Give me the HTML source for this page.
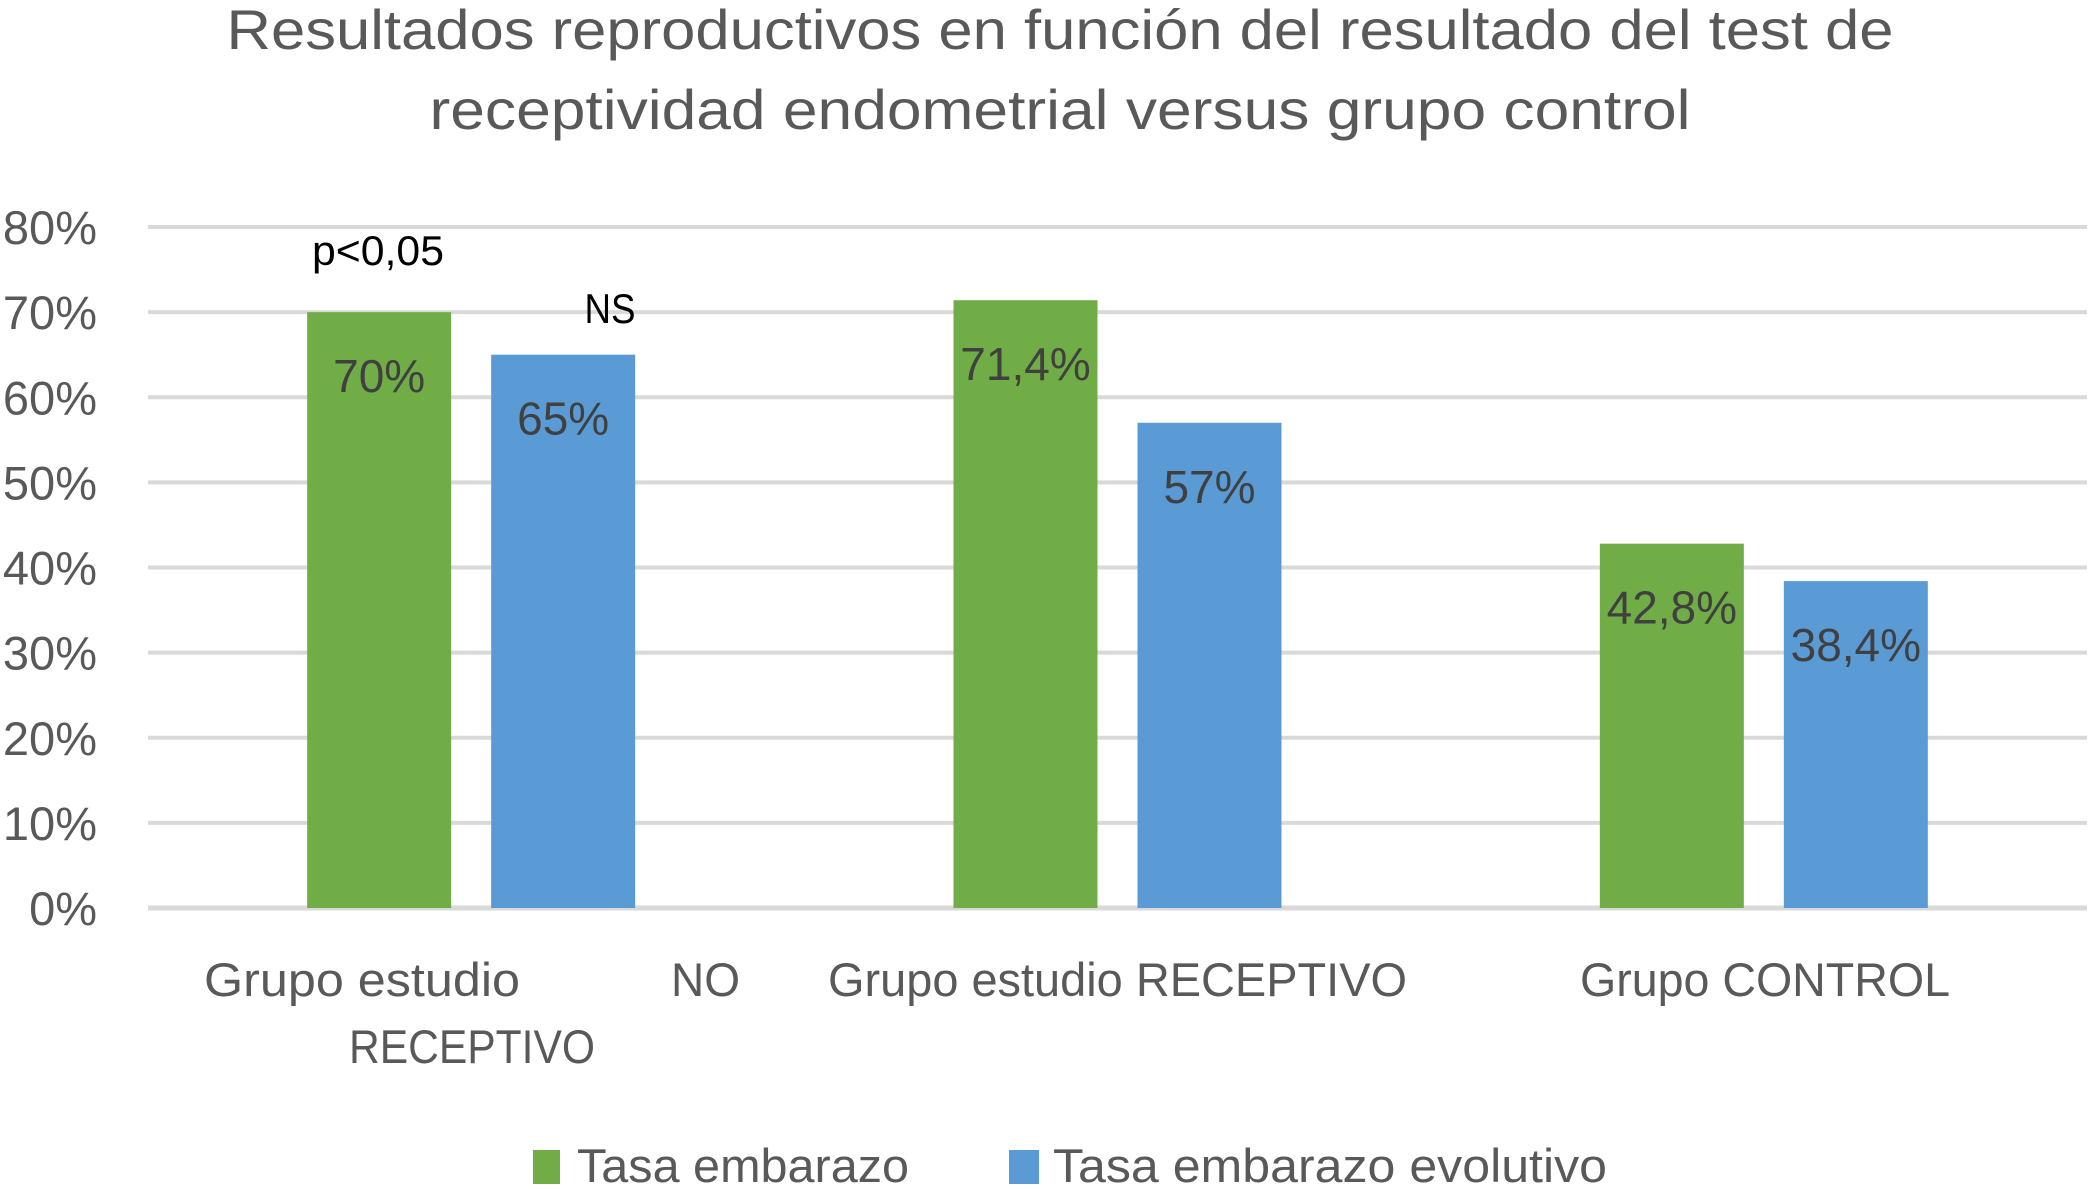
<!DOCTYPE html>
<html><head><meta charset="utf-8"><style>html,body{margin:0;padding:0;background:#fff}svg{display:block}text{font-family:"Liberation Sans",sans-serif}</style></head>
<body>
<svg id="chart" width="2091" height="1189" viewBox="0 0 2091 1189" xmlns="http://www.w3.org/2000/svg">
<text x="1060" y="49" text-anchor="middle" font-size="56" fill="#595959" textLength="1667" lengthAdjust="spacingAndGlyphs">Resultados reproductivos en función del resultado del test de</text>
<text x="1060" y="129" text-anchor="middle" font-size="56" fill="#595959" textLength="1261" lengthAdjust="spacingAndGlyphs">receptividad endometrial versus grupo control</text>
<g id="grid"></g><g id="bars"></g><g id="labels"></g>
<text x="378" y="265" text-anchor="middle" font-size="42" fill="#000" textLength="132" lengthAdjust="spacingAndGlyphs">p&lt;0,05</text>
<text x="610" y="323" text-anchor="middle" font-size="42" fill="#000" textLength="51" lengthAdjust="spacingAndGlyphs">NS</text>
<g font-size="47" fill="#595959">
<text x="204" y="996" textLength="316" lengthAdjust="spacingAndGlyphs">Grupo estudio</text>
<text x="671" y="996" textLength="69" lengthAdjust="spacingAndGlyphs">NO</text>
<text x="349" y="1063" textLength="246" lengthAdjust="spacingAndGlyphs">RECEPTIVO</text>
<text x="828" y="996" textLength="579" lengthAdjust="spacingAndGlyphs">Grupo estudio RECEPTIVO</text>
<text x="1580" y="996" textLength="370" lengthAdjust="spacingAndGlyphs">Grupo CONTROL</text>
</g>
<g font-size="47" fill="#595959">
<rect x="533" y="1150" width="27" height="34" fill="#70AD47"/>
<text x="577" y="1182" textLength="332" lengthAdjust="spacingAndGlyphs">Tasa embarazo</text>
<rect x="1009" y="1150" width="30" height="34" fill="#5B9BD5"/>
<text x="1053" y="1182" textLength="554" lengthAdjust="spacingAndGlyphs">Tasa embarazo evolutivo</text>
</g>
</svg>
<script>
const categories = ["Grupo estudio NO RECEPTIVO", "Grupo estudio RECEPTIVO", "Grupo CONTROL"];
const tasaEmbarazo = [70, 71.4, 42.8];
const tasaEvolutivo = [65, 57, 38.4];
const labelsEmbarazo = ["70%", "71,4%", "42,8%"];
const labelsEvolutivo = ["65%", "57%", "38,4%"];
const yTicks = [0, 10, 20, 30, 40, 50, 60, 70, 80];
const NS = "http://www.w3.org/2000/svg";
const x0 = 148, x1 = 2087, y0 = 908, yTop = 227, yMax = 80;
const y = v => y0 - (v / yMax) * (y0 - yTop);
const catW = (x1 - x0) / categories.length;
const barW = 144, gap = 40;
const xBar = (i, s) => x0 + catW * i + (catW - (2 * barW + gap)) / 2 + s * (barW + gap);
function mk(tag, attrs, parent) { const e = document.createElementNS(NS, tag); for (const k in attrs) e.setAttribute(k, attrs[k]); parent.appendChild(e); return e; }
const grid = document.getElementById('grid'), bars = document.getElementById('bars'), labels = document.getElementById('labels');
yTicks.forEach(t => {
  const l = mk('line', {x1: x0, x2: x1, y1: y(t), y2: y(t), stroke: '#d9d9d9', 'stroke-width': t === 0 ? 5 : 4}, grid);
  
  
  const tx = mk('text', {x: 97, y: y(t) + 17, 'text-anchor': 'end', 'font-size': 47, fill: '#595959'}, grid);
  tx.textContent = t + '%';
  
  
});
[[tasaEmbarazo, labelsEmbarazo, '#70AD47'], [tasaEvolutivo, labelsEvolutivo, '#5B9BD5']].forEach(([vals, labs, col], s) => {
  vals.forEach((v, i) => {
    const r = mk('rect', {x: xBar(i, s), y: y(v), width: barW, height: y0 - y(v), fill: col}, bars);
    
    
    const t = mk('text', {x: xBar(i, s) + barW / 2, y: y(v) + 80, 'text-anchor': 'middle', 'font-size': 46, fill: '#404040'}, labels);
    t.textContent = labs[i];
    
    
  });
});
</script>
</body></html>
